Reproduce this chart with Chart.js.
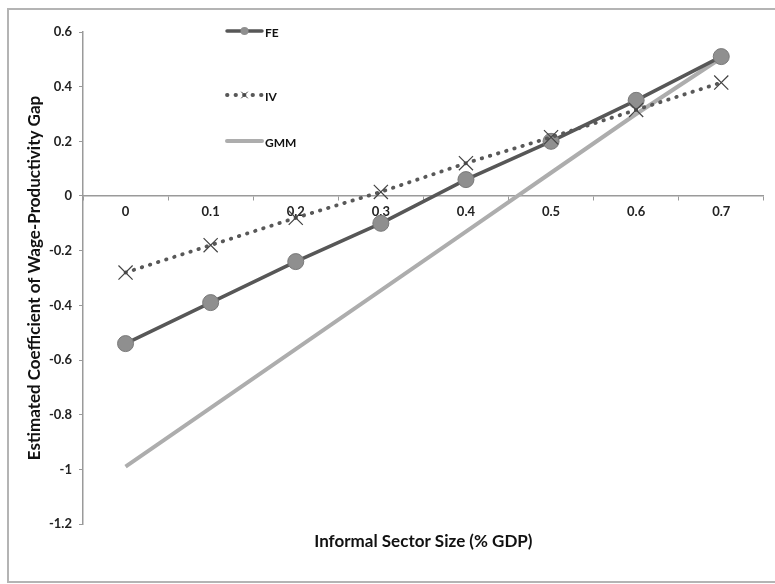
<!DOCTYPE html>
<html>
<head>
<meta charset="utf-8">
<script src="https://cdn.jsdelivr.net/npm/chart.js@4/dist/chart.umd.min.js"></script>
<style>
  html, body { margin: 0; padding: 0; background: #fff; }
  #wrap { position: relative; width: 775px; height: 584px; }
</style>
</head>
<body>
<div id="wrap"><canvas id="c" width="775" height="584"></canvas></div>
<script>
const categories = ['0', '0.1', '0.2', '0.3', '0.4', '0.5', '0.6', '0.7'];
const feValues  = [-0.54, -0.39, -0.24, -0.10, 0.06, 0.20, 0.35, 0.51];
const ivValues  = [-0.28, -0.18, -0.08, 0.015, 0.12, 0.215, 0.315, 0.415];
const gmmValues = [-0.99, -0.775, -0.56, -0.345, -0.13, 0.085, 0.30, 0.505];
const yTicks = [0.6, 0.4, 0.2, 0, -0.2, -0.4, -0.6, -0.8, -1, -1.2];
const seriesNames = ['FE', 'IV', 'GMM'];

const FONT = 'Lato, "Open Sans", sans-serif';

const framePlugin = {
  id: 'frame',
  beforeDraw(chart) {
    const ctx = chart.ctx;
    ctx.save();
    ctx.fillStyle = '#fff';
    ctx.fillRect(0, 0, chart.width, chart.height);
    ctx.strokeStyle = '#b4b4b4';
    ctx.lineWidth = 2;
    ctx.strokeRect(8, 9, chart.width + 10, chart.height - 11);
    ctx.restore();
  }
};

const legendPlugin = {
  id: 'customLegend',
  afterDatasetsDraw(chart) {
    const ctx = chart.ctx;
    const x0 = 227, x1 = 262;
    const rows = [31, 95, 141];
    ctx.save();
    chart.data.datasets.forEach((ds, i) => {
      const y = rows[i];
      ctx.strokeStyle = ds.borderColor;
      ctx.lineWidth = ds.borderWidth;
      ctx.lineCap = 'round';
      ctx.setLineDash(ds.borderDash || []);
      ctx.beginPath();
      ctx.moveTo(x0, y);
      ctx.lineTo(x1, y);
      ctx.stroke();
      ctx.setLineDash([]);
      const cx = (x0 + x1) / 2;
      if (ds.pointStyle === 'circle' && ds.pointRadius > 0) {
        ctx.fillStyle = ds.pointBackgroundColor;
        ctx.beginPath();
        ctx.arc(cx, y, 4, 0, Math.PI * 2);
        ctx.fill();
      } else if (ds.pointStyle === 'crossRot') {
        ctx.strokeStyle = ds.pointBorderColor;
        ctx.lineWidth = 1;
        ctx.beginPath();
        ctx.moveTo(cx - 3, y - 3); ctx.lineTo(cx + 3, y + 3);
        ctx.moveTo(cx - 3, y + 3); ctx.lineTo(cx + 3, y - 3);
        ctx.stroke();
      }
      ctx.fillStyle = '#111';
      ctx.font = 'bold 12px ' + FONT;
      ctx.textBaseline = 'middle';
      ctx.textAlign = 'left';
      ctx.fillText(ds.label, x1 + 3, y + 2);
    });
    ctx.restore();
  }
};

new Chart(document.getElementById('c'), {
  type: 'line',
  data: {
    labels: categories,
    datasets: [
      {
        label: seriesNames[0],
        data: feValues,
        borderColor: '#575757',
        borderWidth: 3.5,
        pointStyle: 'circle',
        pointRadius: 8,
        pointBackgroundColor: '#8f8f8f',
        pointBorderColor: '#7a7a7a',
        pointBorderWidth: 1,
        tension: 0,
        order: 2
      },
      {
        label: seriesNames[1],
        data: ivValues,
        borderColor: '#585858',
        borderWidth: 3.8,
        borderDash: [0.5, 8],
        borderCapStyle: 'round',
        pointStyle: 'crossRot',
        pointRadius: 10,
        pointBorderColor: '#444',
        pointBorderWidth: 1.2,
        tension: 0,
        order: 1
      },
      {
        label: seriesNames[2],
        data: gmmValues,
        borderColor: '#adadad',
        borderWidth: 4,
        pointRadius: 0,
        pointStyle: false,
        tension: 0,
        order: 3
      }
    ]
  },
  options: {
    responsive: false,
    animation: false,
    layout: { padding: { left: 0, right: 0, top: 32, bottom: 0 } },
    plugins: {
      legend: { display: false },
      tooltip: { enabled: false },
      title: {
        display: true,
        position: 'bottom',
        fullSize: false,
        text: 'Informal Sector Size (% GDP)',
        color: '#111',
        font: { family: FONT, size: 17, weight: 'bold' },
        padding: { top: 7.8, bottom: 31.8 }
      }
    },
    scales: {
      x: {
        type: 'category',
        position: { y: 0 },
        offset: true,
        grid: { display: true, drawOnChartArea: false, drawTicks: true, tickLength: 4, offset: true, color: '#9a9a9a' },
        border: { display: true, color: '#9a9a9a', width: 1.5 },
        ticks: {
          color: '#222',
          font: { family: FONT, size: 13, weight: 'bold' },
          padding: 4,
          maxRotation: 0
        }
      },
      y: {
        min: -1.2,
        max: 0.6,
        afterFit(scale) { scale.width = 83; },
        afterBuildTicks(scale) { scale.ticks = yTicks.map(v => ({ value: v })); },
        grid: { display: true, drawOnChartArea: false, drawTicks: true, tickLength: 4, color: '#9a9a9a' },
        border: { display: true, color: '#9a9a9a', width: 1.5 },
        ticks: {
          color: '#222',
          font: { family: FONT, size: 13, weight: 'bold' },
          padding: 7,
          callback: (v) => String(Math.round(v * 10) / 10)
        },
        title: {
          display: true,
          text: 'Estimated Coefficient of Wage-Productivity Gap',
          color: '#111',
          font: { family: FONT, size: 17, weight: 'bold' },
          padding: { top: 24, bottom: 0 }
        }
      }
    }
  },
  plugins: [framePlugin, legendPlugin]
});
</script>
</body>
</html>
